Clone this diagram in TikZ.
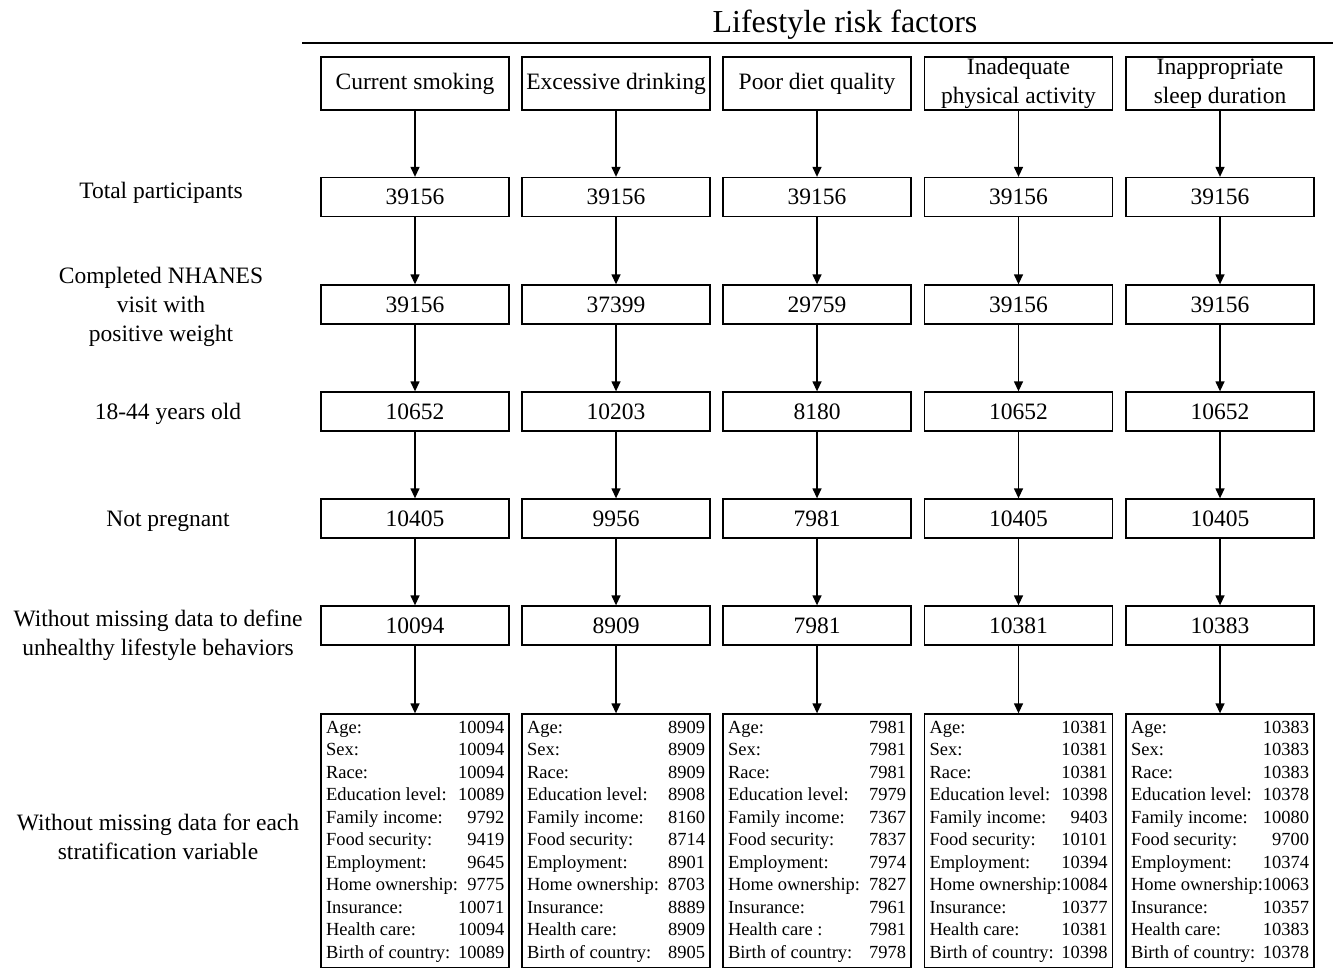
\documentclass[tikz,border=0pt]{standalone}
\usepackage{fontspec}
\setmainfont{Liberation Serif}
\usetikzlibrary{arrows.meta}

\newcommand{\strattab}[1]{{\fontsize{18.5}{22.5}\selectfont
  \begin{tabular*}{178pt}{@{}l@{\extracolsep{\fill}}r@{}}#1\end{tabular*}}}

\tikzset{
  hdr/.style={draw, line width=1.3pt, minimum width=188pt, minimum height=53pt,
    inner sep=0pt, align=center, font=\fontsize{23.5}{29}\selectfont},
  cnt/.style={draw, line width=1.3pt, minimum width=188pt, minimum height=39pt,
    inner sep=0pt, font=\fontsize{23.5}{29}\selectfont},
  strat/.style={draw, line width=1.3pt, minimum width=188pt, minimum height=254pt,
    inner sep=0pt},
  lbl/.style={align=center, font=\fontsize{23.5}{29}\selectfont},
  flow/.style={line width=1.3pt, -{Triangle[length=10pt, width=9pt]}}
}

\begin{document}
\begin{tikzpicture}[x=1pt, y=-1pt]
  \useasboundingbox (0,0) rectangle (1335,968);

  % title
  \node[font=\fontsize{32}{38}\selectfont] (title) at (845,24.5) {Lifestyle risk factors};
  \draw[line width=1.5pt] (302,43) -- (1333,43);

  % headers
  \node[hdr] (h1) at (415,83.5) {\raisebox{-2pt}{Current smoking}};
  \node[hdr] (h2) at (616,83.5) {\raisebox{-2pt}{Excessive drinking}};
  \node[hdr] (h3) at (817,83.5) {\raisebox{-2pt}{Poor diet quality}};
  \node[hdr] (h4) at (1018.5,83.5) {Inadequate\\physical activity};
  \node[hdr] (h5) at (1220,83.5) {Inappropriate\\sleep duration};

  % row labels
  \node[lbl] (l1) at (161,192.5) {Total participants};
  \node[lbl] (l2) at (161,306.5) {Completed NHANES\\visit with\\positive weight};
  \node[lbl] (l3) at (168,413.5) {18-44 years old};
  \node[lbl] (l4) at (168,521.5) {Not pregnant};
  \node[lbl] (l5) at (158,635.5) {Without missing data to define\\unhealthy lifestyle behaviors};
  \node[lbl] (l6) at (158,836.5) {Without missing data for each\\stratification variable};

  % counts
  \foreach \c/\x/\a/\b/\d/\e/\f in {1/415/39156/39156/10652/10405/10094,
      2/616/39156/37399/10203/9956/8909, 3/817/39156/29759/8180/7981/7981,
      4/1018.5/39156/39156/10652/10405/10381, 5/1220/39156/39156/10652/10405/10383} {
    \node[cnt] (a\c) at (\x,197) {\a};
    \node[cnt] (b\c) at (\x,304.5) {\b};
    \node[cnt] (d\c) at (\x,411.5) {\d};
    \node[cnt] (e\c) at (\x,518.5) {\e};
    \node[cnt] (f\c) at (\x,625.5) {\f};
  }

  % stratification variables
  \node[strat] (s1) at (415,841) {\strattab{Age: & 10094\\ Sex: & 10094\\ Race: & 10094\\
    Education level: & 10089\\ Family income: & 9792\\ Food security: & 9419\\
    Employment: & 9645\\ Home ownership: & 9775\\ Insurance: & 10071\\
    Health care: & 10094\\ Birth of country: & 10089}};
  \node[strat] (s2) at (616,841) {\strattab{Age: & 8909\\ Sex: & 8909\\ Race: & 8909\\
    Education level: & 8908\\ Family income: & 8160\\ Food security: & 8714\\
    Employment: & 8901\\ Home ownership: & 8703\\ Insurance: & 8889\\
    Health care: & 8909\\ Birth of country: & 8905}};
  \node[strat] (s3) at (817,841) {\strattab{Age: & 7981\\ Sex: & 7981\\ Race: & 7981\\
    Education level: & 7979\\ Family income: & 7367\\ Food security: & 7837\\
    Employment: & 7974\\ Home ownership: & 7827\\ Insurance: & 7961\\
    Health care : & 7981\\ Birth of country: & 7978}};
  \node[strat] (s4) at (1018.5,841) {\strattab{Age: & 10381\\ Sex: & 10381\\ Race: & 10381\\
    Education level: & 10398\\ Family income: & 9403\\ Food security: & 10101\\
    Employment: & 10394\\ Home ownership:\hspace{-6pt} & 10084\\ Insurance: & 10377\\
    Health care: & 10381\\ Birth of country: & 10398}};
  \node[strat] (s5) at (1220,841) {\strattab{Age: & 10383\\ Sex: & 10383\\ Race: & 10383\\
    Education level: & 10378\\ Family income: & 10080\\ Food security: & 9700\\
    Employment: & 10374\\ Home ownership:\hspace{-6pt} & 10063\\ Insurance: & 10357\\
    Health care: & 10383\\ Birth of country: & 10378}};

  % arrows
  \foreach \c in {1,...,5} {
    \draw[flow] (h\c) -- (a\c);
    \draw[flow] (a\c) -- (b\c);
    \draw[flow] (b\c) -- (d\c);
    \draw[flow] (d\c) -- (e\c);
    \draw[flow] (e\c) -- (f\c);
    \draw[flow] (f\c) -- (s\c);
  }
\end{tikzpicture}
\end{document}
